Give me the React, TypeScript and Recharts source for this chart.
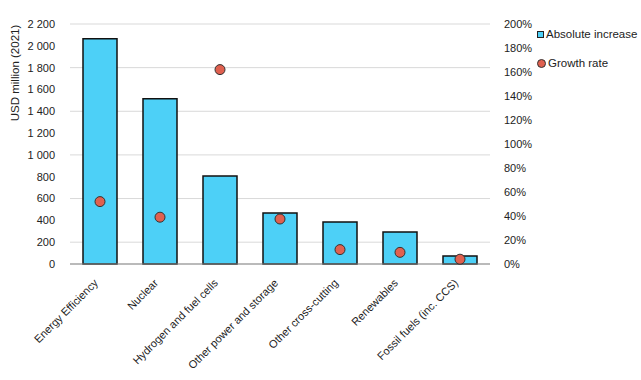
import { ComposedChart, Bar, Scatter, XAxis, YAxis, CartesianGrid } from "recharts";

const categories = [
  "Energy Efficiency",
  "Nuclear",
  "Hydrogen and fuel cells",
  "Other power and storage",
  "Other cross-cutting",
  "Renewables",
  "Fossil fuels (inc. CCS)",
];
const absoluteIncrease = [2065, 1515, 807, 468, 385, 294, 73];
const growthRate = [52, 39, 162, 37.5, 12, 9.7, 4];
const leftTicks = [0, 200, 400, 600, 800, 1000, 1200, 1400, 1600, 1800, 2000, 2200];
const rightTicks = [0, 20, 40, 60, 80, 100, 120, 140, 160, 180, 200];

const data = categories.map((name, i) => ({
  name,
  absolute: absoluteIncrease[i],
  growth: growthRate[i],
}));

const FONT = "'Liberation Sans', Arial, sans-serif";
const BAR = "#4dd0f7";
const DOT = "#e0604f";

const fmtThousands = (v: number) => String(v).replace(/\B(?=(\d{3})+(?!\d))/g, "\u00a0");

const XTick = (props: any) => {
  const { x, y, payload } = props;
  const ax = x - 4;
  const ay = y + 9;
  return (
    <text
      x={ax}
      y={ay}
      dy="0.35em"
      textAnchor="end"
      transform={`rotate(-45, ${ax}, ${ay})`}
      fill="#222"
      fontSize={11}
      fontFamily={FONT}
    >
      {payload.value}
    </text>
  );
};

const Dot = (props: any) => {
  const { cx, cy } = props;
  return <circle cx={cx} cy={cy} r={5} fill={DOT} stroke="#333" strokeWidth={1} />;
};

const YLabel = (props: any) => {
  const { viewBox } = props;
  const x = 16;
  const y = viewBox.y + 49;
  return (
    <text
      x={x}
      y={y}
      transform={`rotate(-90, ${x}, ${y})`}
      textAnchor="middle"
      dominantBaseline="middle"
      fill="#222"
      fontSize={11.5}
      fontFamily={FONT}
    >
      USD million (2021)
    </text>
  );
};

export default function App() {
  return (
    <div style={{ position: "absolute", left: 0, top: 0, width: 641, height: 380, background: "#fff" }}>
      <ComposedChart
        width={641}
        height={380}
        data={data}
        margin={{ top: 24, right: 111, bottom: 0, left: 20 }}
      >
        <CartesianGrid vertical={false} stroke="#d9d9d9" yAxisId="left" />
        <XAxis
          dataKey="name"
          height={116}
          interval={0}
          tick={<XTick />}
          tickLine={false}
          axisLine={{ stroke: "#888" }}
        />
        <YAxis
          yAxisId="left"
          width={50}
          domain={[0, 2200]}
          ticks={leftTicks}
          tickFormatter={fmtThousands}
          axisLine={false}
          tickLine={false}
          tickMargin={9}
          tick={{ fill: "#222", fontSize: 11, fontFamily: FONT }}
          label={<YLabel />}
        />
        <YAxis
          yAxisId="right"
          orientation="right"
          width={40}
          domain={[0, 200]}
          ticks={rightTicks}
          tickFormatter={(v: number) => `${v}%`}
          axisLine={false}
          tickLine={false}
          tickMargin={8}
          tick={{ fill: "#222", fontSize: 11, fontFamily: FONT, textAnchor: "start" }}
        />
        <Bar
          yAxisId="left"
          dataKey="absolute"
          name="Absolute increase"
          fill={BAR}
          stroke="#111"
          strokeWidth={1.5}
          barSize={34}
          isAnimationActive={false}
        />
        <Scatter
          yAxisId="right"
          dataKey="growth"
          name="Growth rate"
          shape={<Dot />}
          isAnimationActive={false}
        />
      </ComposedChart>
      <div
        style={{
          position: "absolute",
          left: 537,
          top: 27,
          fontFamily: FONT,
          fontSize: 11.5,
          color: "#222",
          lineHeight: "14px",
          whiteSpace: "nowrap",
        }}
      >
        <div style={{ display: "flex", alignItems: "center", marginBottom: 15 }}>
          <span
            style={{ width: 5, height: 5, background: BAR, border: "1px solid #222", marginRight: 2, display: "inline-block" }}
          />
          Absolute increase
        </div>
        <div style={{ display: "flex", alignItems: "center" }}>
          <span
            style={{ width: 7, height: 7, background: DOT, border: "1px solid #333", borderRadius: "50%", marginRight: 2, display: "inline-block" }}
          />
          Growth rate
        </div>
      </div>
    </div>
  );
}
